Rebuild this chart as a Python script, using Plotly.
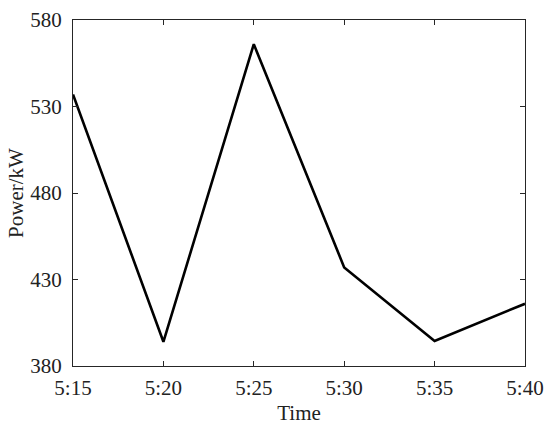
import plotly.graph_objects as go

times = ["5:15", "5:20", "5:25", "5:30", "5:35", "5:40"]
power_kw = [537, 394, 566, 437, 394.5, 416]
y_ticks = [380, 430, 480, 530, 580]

fig = go.Figure()
fig.add_trace(go.Scatter(x=times, y=power_kw, mode="lines",
                         line=dict(color="black", width=2.6), showlegend=False))

axis_common = dict(showline=True, linecolor="#262626", linewidth=1.2, mirror="ticks",
                   ticks="inside", ticklen=5, tickcolor="#262626", showgrid=False,
                   zeroline=False, automargin=False,
                   tickfont=dict(family="Liberation Serif", size=21, color="#222"))

fig.update_xaxes(type="category", range=[0, 5], ticklabelstandoff=3,
                 title=dict(text="Time", standoff=6,
                 font=dict(family="Liberation Serif", size=21, color="#222")), **axis_common)
fig.update_yaxes(range=[380, 580], tickvals=y_ticks, ticklabelstandoff=6,
                 title=dict(text="Power/kW", standoff=0,
                 font=dict(family="Liberation Serif", size=21, color="#222")), **axis_common)

fig.update_layout(width=550, height=430, margin=dict(l=73, r=25, t=20, b=64),
                  plot_bgcolor="white", paper_bgcolor="white")
fig.write_html("out.html", post_script="document.body.style.margin='0';",
               config={"displayModeBar": False})
